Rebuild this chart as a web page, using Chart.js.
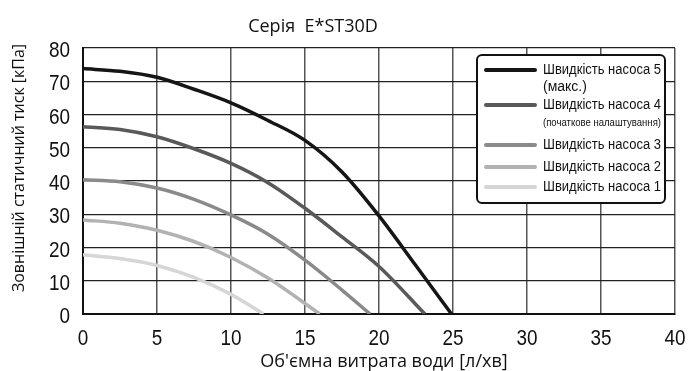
<!DOCTYPE html>
<html>
<head>
<meta charset="utf-8">
<script src="https://cdn.jsdelivr.net/npm/chart.js@4.4.1/dist/chart.umd.min.js"></script>
<style>
    html, body { margin: 0; padding: 0; background: #fff; }
    canvas { display: block; }
</style>
</head>
<body>
<canvas id="pumpCurveChart"></canvas>
<script>
// Дані кривих насоса (витрата л/хв -> тиск кПа)
const flow5 = [0, 2.5, 5, 7.5, 10, 12.5, 15, 17.5, 20, 22.5, 24.9];
const speed5 = [73.8, 73.0, 71.2, 67.6, 63.5, 58.2, 52.2, 42.7, 29.5, 14.5, 0];

const flow4 = [0, 2.5, 5, 7.5, 10, 12.5, 15, 17.5, 20, 23.1];
const speed4 = [56.3, 55.5, 53.3, 49.7, 45.3, 39.5, 31.8, 23.2, 14.3, 0];

const flow3 = [0, 2.5, 5, 7.5, 10, 12.5, 15, 17.5, 19.4];
const speed3 = [40.4, 39.8, 37.9, 34.5, 29.8, 24.0, 16.2, 7.2, 0];

const flow2 = [0, 2.5, 5, 7.5, 10, 12.5, 16];
const speed2 = [28.3, 27.3, 25.2, 21.8, 17.0, 10.8, 0];

const flow1 = [0, 2.5, 5, 7.5, 10, 12.2];
const speed1 = [17.8, 16.7, 14.6, 11.0, 5.9, 0];

const seriesLabels = ['Швидкість насоса 5', 'Швидкість насоса 4', 'Швидкість насоса 3', 'Швидкість насоса 2', 'Швидкість насоса 1'];
const seriesNotes = ['(макс.)', '(початкове налаштування)', '', '', ''];
const seriesColors = ['#151515', '#595959', '#8a8a8a', '#b2b2b2', '#d6d6d6'];

const xTicks = [0, 5, 10, 15, 20, 25, 30, 35, 40];
const yTicks = [0, 10, 20, 30, 40, 50, 60, 70, 80];

const chartTitle = 'Серія  E*ST30D';
const xTitle = "Об'ємна витрата води [л/хв]";
const yTitle = 'Зовнішній статичний тиск [кПа]';

const narrowFont = "'Liberation Sans Narrow', 'Liberation Sans', Arial, sans-serif";
const textFont = "'Open Sans', 'Noto Sans', sans-serif";

function toPoints(xs, ys) {
    return xs.map((x, i) => ({ x: x, y: ys[i] }));
}

// Text horizontal stauchen (Schmalschrift nachbilden)
function drawNarrow(ctx, text, x, y, factor) {
    ctx.save();
    ctx.translate(x, y);
    ctx.scale(factor, 1);
    ctx.fillText(text, 0, 0);
    ctx.restore();
}

// Text auf eine Zielbreite stauchen
function fitText(ctx, text, x, y, width) {
    const w = ctx.measureText(text).width;
    drawNarrow(ctx, text, x, y, w > width ? width / w : 1);
}

const labelsPlugin = {
    id: 'labelsPlugin',
    afterDraw(chart) {
        const ctx = chart.ctx;
        const area = chart.chartArea;
        const xs = chart.scales.x;
        const ys = chart.scales.y;

        // Tick-Beschriftungen
        ctx.save();
        ctx.fillStyle = '#111';
        ctx.font = '22px ' + narrowFont;
        ctx.textBaseline = 'middle';
        ctx.textAlign = 'center';
        xTicks.forEach(v => drawNarrow(ctx, String(v), xs.getPixelForValue(v), area.bottom + 25, 0.86));
        ctx.textAlign = 'right';
        yTicks.forEach(v => drawNarrow(ctx, String(v), area.left - 13, ys.getPixelForValue(v) + 3, 0.86));
        ctx.restore();

        // Titel und Achsentitel
        ctx.save();
        ctx.fillStyle = '#111';
        ctx.textAlign = 'center';
        ctx.textBaseline = 'middle';
        ctx.font = '18px ' + textFont;
        fitText(ctx, chartTitle, 313, 27, 150);
        ctx.font = '18px ' + textFont;
        fitText(ctx, xTitle, (area.left + area.right) / 2 + 5, 362, 262);
        ctx.font = '16px ' + textFont;
        ctx.translate(19, 168);
        ctx.rotate(-Math.PI / 2);
        ctx.fillText(yTitle, 0, 0);
        ctx.restore();

        // Legende mit Rahmen
        const bx = area.right - 198, by = area.top + 7, bw = 188, bh = 148;
        ctx.save();
        ctx.fillStyle = '#fff';
        ctx.strokeStyle = '#111';
        ctx.lineWidth = 2;
        ctx.beginPath();
        ctx.roundRect(bx, by, bw, bh, 5);
        ctx.fill();
        ctx.stroke();

        const rows = [15, 50, 90, 112, 132];
        ctx.textAlign = 'left';
        ctx.textBaseline = 'middle';
        ctx.fillStyle = '#111';
        chart.data.datasets.forEach((ds, i) => {
            const ry = by + rows[i];
            ctx.strokeStyle = ds.borderColor;
            ctx.lineWidth = 4;
            ctx.lineCap = 'round';
            ctx.beginPath();
            ctx.moveTo(bx + 9, ry);
            ctx.lineTo(bx + 58, ry);
            ctx.stroke();
            ctx.font = '14px ' + narrowFont;
            fitText(ctx, seriesLabels[i], bx + 66, ry, 118);
            if (seriesNotes[i]) {
                ctx.font = (i === 1 ? '11px ' : '14px ') + narrowFont;
                fitText(ctx, seriesNotes[i], bx + 66, ry + (i === 1 ? 18 : 17), 118);
            }
        });
        ctx.restore();
    }
};

document.addEventListener('DOMContentLoaded', () => {
    const canvas = document.querySelector('canvas#pumpCurveChart');
    canvas.style.width = '692px';
    canvas.style.height = '371px';
    canvas.width = 692;
    canvas.height = 371;

    const flows = [flow5, flow4, flow3, flow2, flow1];
    const speeds = [speed5, speed4, speed3, speed2, speed1];

    const chart = new Chart(canvas, {
        type: 'line',
        data: {
            datasets: seriesLabels.map((label, i) => ({
                label: label,
                data: toPoints(flows[i], speeds[i]),
                borderColor: seriesColors[i],
                backgroundColor: seriesColors[i],
                borderWidth: 3.5,
                pointRadius: 0,
                cubicInterpolationMode: 'monotone',
                fill: false
            }))
        },
        options: {
            responsive: false,
            maintainAspectRatio: false,
            animation: false,
            layout: {
                padding: { top: 48, right: 17, left: 0, bottom: 0 }
            },
            plugins: {
                legend: { display: false },
                title: { display: false },
                tooltip: { enabled: false }
            },
            scales: {
                x: {
                    type: 'linear',
                    min: 0,
                    max: 40,
                    afterBuildTicks: (scale) => { scale.ticks = xTicks.map(v => ({ value: v })); },
                    afterFit: (scale) => { scale.height = 57; },
                    ticks: { display: false },
                    grid: { color: '#555', lineWidth: 1.5, drawTicks: false },
                    border: { display: true, color: '#111', width: 2 }
                },
                y: {
                    min: 0,
                    max: 80,
                    afterBuildTicks: (scale) => { scale.ticks = yTicks.map(v => ({ value: v })); },
                    afterFit: (scale) => { scale.width = 83; },
                    ticks: { display: false },
                    grid: { color: '#222', lineWidth: 1.2, drawTicks: false },
                    border: { display: true, color: '#111', width: 2 }
                }
            }
        },
        plugins: [labelsPlugin]
    });
});
</script>
</body>
</html>
